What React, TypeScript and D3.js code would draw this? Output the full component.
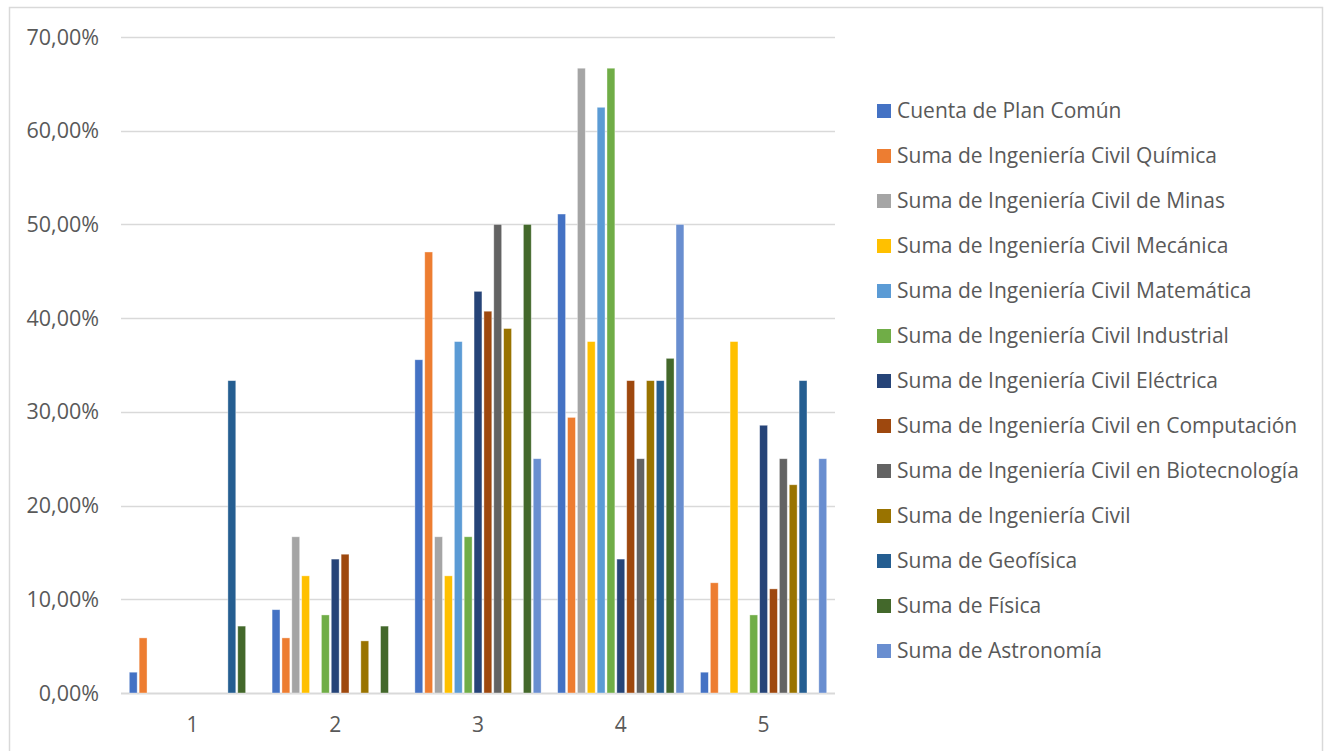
import React, { useRef, useEffect } from "react";
import * as d3 from "d3";

const categories = ["1", "2", "3", "4", "5"];

const seriesNames = [
  "Cuenta de Plan Común",
  "Suma de Ingeniería Civil Química",
  "Suma de Ingeniería Civil de Minas",
  "Suma de Ingeniería Civil Mecánica",
  "Suma de Ingeniería Civil Matemática",
  "Suma de Ingeniería Civil Industrial",
  "Suma de Ingeniería Civil Eléctrica",
  "Suma de Ingeniería Civil en Computación",
  "Suma de Ingeniería Civil en Biotecnología",
  "Suma de Ingeniería Civil",
  "Suma de Geofísica",
  "Suma de Física",
  "Suma de Astronomía",
];

const seriesColors = [
  "#4472C4",
  "#ED7D31",
  "#A5A5A5",
  "#FFC000",
  "#5B9BD5",
  "#70AD47",
  "#264478",
  "#9E480E",
  "#636363",
  "#997300",
  "#255E91",
  "#43682B",
  "#698ED0",
];

// values in %, one array per series, order of categories 1..5
const planComun = [2.22, 8.89, 35.56, 51.11, 2.22];
const quimica = [5.88, 5.88, 47.06, 29.41, 11.76];
const minas = [0, 16.67, 16.67, 66.67, 0];
const mecanica = [0, 12.5, 12.5, 37.5, 37.5];
const matematica = [0, 0, 37.5, 62.5, 0];
const industrial = [0, 8.33, 16.67, 66.67, 8.33];
const electrica = [0, 14.29, 42.86, 14.29, 28.57];
const computacion = [0, 14.81, 40.74, 33.33, 11.11];
const biotecnologia = [0, 0, 50, 25, 25];
const civil = [0, 5.56, 38.89, 33.33, 22.22];
const geofisica = [33.33, 0, 0, 33.33, 33.33];
const fisica = [7.14, 7.14, 50, 35.71, 0];
const astronomia = [0, 0, 25, 50, 25];

const seriesValues = [
  planComun,
  quimica,
  minas,
  mecanica,
  matematica,
  industrial,
  electrica,
  computacion,
  biotecnologia,
  civil,
  geofisica,
  fisica,
  astronomia,
];

const yTicks = [0, 10, 20, 30, 40, 50, 60, 70];

const W = 1324;
const H = 751;
const FONT = "'Open Sans', sans-serif";

const App: React.FC = () => {
  const svgRef = useRef<SVGSVGElement>(null);

  useEffect(() => {
    if (!svgRef.current) return;
    const svg = d3.select(svgRef.current);
    svg.selectAll("*").remove();

    // chart frame
    svg
      .append("rect")
      .attr("x", 9.5)
      .attr("y", 7.5)
      .attr("width", 1313)
      .attr("height", 780)
      .attr("fill", "white")
      .attr("stroke", "#D9D9D9")
      .attr("stroke-width", 1.5);

    const plot = { left: 121, right: 835, top: 37, bottom: 693 };

    const y = d3.scaleLinear().domain([0, 70]).range([plot.bottom, plot.top]);
    const x0 = d3
      .scaleBand<string>()
      .domain(categories)
      .range([plot.left, plot.right])
      .paddingInner(0)
      .paddingOuter(0);
    const x1 = d3
      .scaleBand<number>()
      .domain(d3.range(seriesNames.length))
      .range([7.3, x0.bandwidth() - 7.3])
      .paddingInner(0.2)
      .paddingOuter(0.1);

    // gridlines
    svg
      .append("g")
      .selectAll("line")
      .data(yTicks)
      .enter()
      .append("line")
      .attr("x1", plot.left)
      .attr("x2", plot.right)
      .attr("y1", (d) => Math.round(y(d)) + 0.5)
      .attr("y2", (d) => Math.round(y(d)) + 0.5)
      .attr("stroke", "#D9D9D9")
      .attr("stroke-width", (d) => (d === 0 ? 2 : 1.3));

    // y labels
    svg
      .append("g")
      .selectAll("text")
      .data(yTicks)
      .enter()
      .append("text")
      .attr("x", 99)
      .attr("y", (d) => y(d))
      .attr("dy", "0.35em")
      .attr("text-anchor", "end")
      .attr("font-family", FONT)
      .attr("font-size", 21.5)
      .attr("fill", "#595959")
      .text((d) => d3.format(".2f")(d).replace(".", ",") + "%");

    // bars
    const groups = svg
      .append("g")
      .selectAll("g")
      .data(categories)
      .enter()
      .append("g")
      .attr("transform", (c) => `translate(${x0(c)},0)`);

    groups
      .selectAll("rect")
      .data((c) =>
        seriesValues.map((vals, si) => ({ si, v: vals[categories.indexOf(c)] }))
      )
      .enter()
      .filter((d) => d.v > 0)
      .append("rect")
      .attr("x", (d) => x1(d.si) as number)
      .attr("width", x1.bandwidth())
      .attr("y", (d) => y(d.v))
      .attr("height", (d) => plot.bottom - y(d.v))
      .attr("fill", (d) => seriesColors[d.si])
      .attr("stroke", "white")
      .attr("stroke-opacity", 0.5)
      .attr("stroke-width", 0.75);

    // x labels
    svg
      .append("g")
      .selectAll("text")
      .data(categories)
      .enter()
      .append("text")
      .attr("x", (c) => (x0(c) as number) + x0.bandwidth() / 2)
      .attr("y", 725)
      .attr("dy", "0.35em")
      .attr("text-anchor", "middle")
      .attr("font-family", FONT)
      .attr("font-size", 21)
      .attr("fill", "#595959")
      .text((c) => c);

    // legend
    const legend = svg
      .append("g")
      .selectAll("g")
      .data(seriesNames)
      .enter()
      .append("g")
      .attr("transform", (_, i) => `translate(877,${111 + i * 45})`);

    legend
      .append("rect")
      .attr("x", 0)
      .attr("y", -7)
      .attr("width", 14)
      .attr("height", 14)
      .attr("fill", (_, i) => seriesColors[i]);

    legend
      .append("text")
      .attr("x", 20)
      .attr("y", 0)
      .attr("dy", "0.35em")
      .attr("font-family", FONT)
      .attr("font-size", 21)
      .attr("fill", "#595959")
      .text((d) => d);
  }, []);

  return (
    <svg
      ref={svgRef}
      width={W}
      height={H}
      style={{ position: "absolute", left: 0, top: 0 }}
    ></svg>
  );
};

export default App;
